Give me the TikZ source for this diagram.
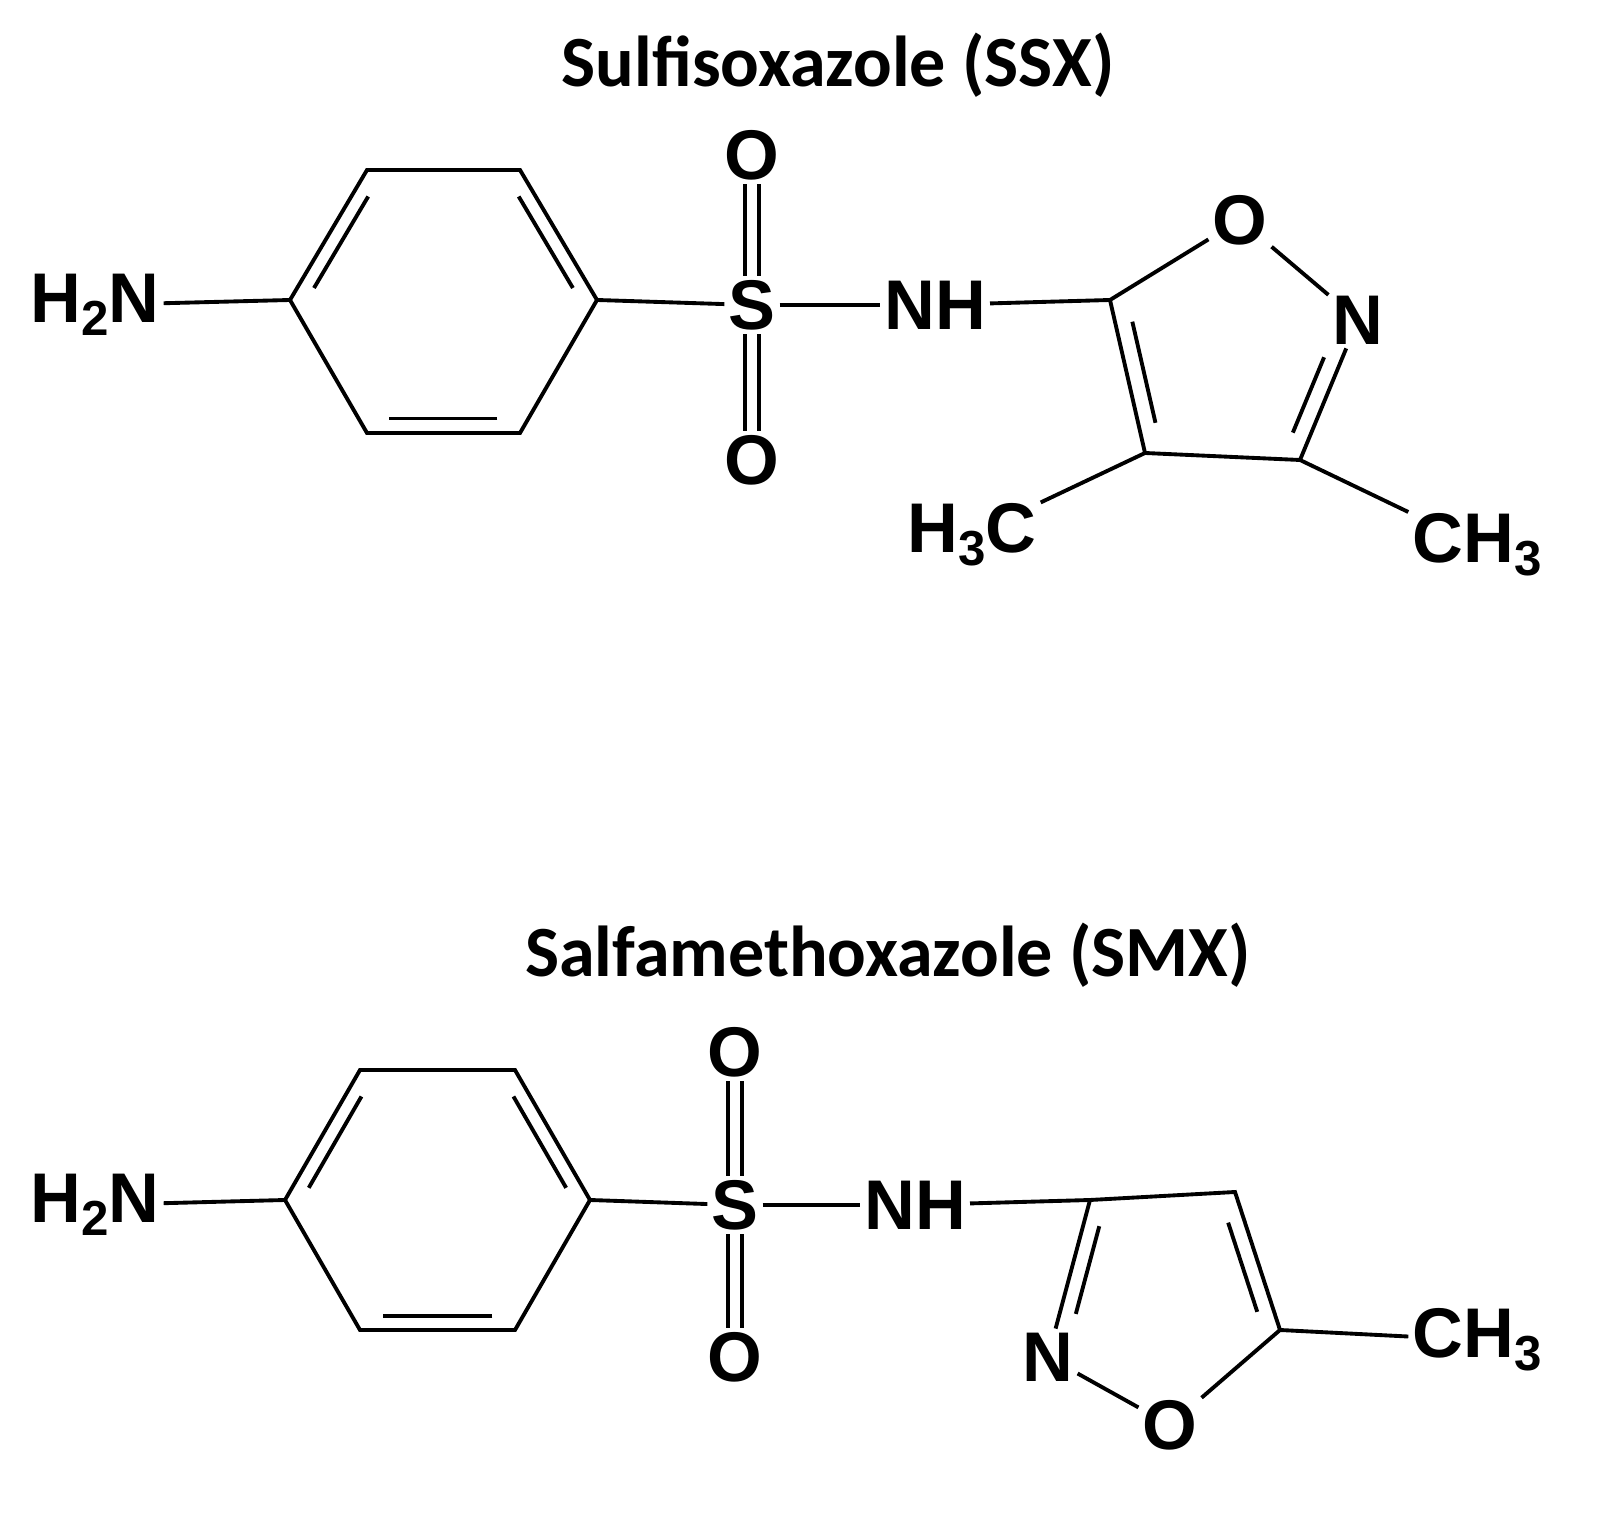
\documentclass[tikz,border=0pt]{standalone}
\usepackage{fontspec}
\setmainfont{Liberation Sans}
\newfontfamily\titlefont{Carlito}
\usetikzlibrary{calc}
\newcommand{\sbs}[1]{\raisebox{-0.35ex}{\fontsize{14}{14}\selectfont #1}}
\tikzset{x=0.01cm,y=-0.01cm,
  atom/.style={font=\fontsize{20}{20}\selectfont\bfseries, inner sep=1pt},
  ttl/.style={font=\titlefont\fontsize{20.5}{20.5}\selectfont\bfseries},
  bd/.style={line width=1.1pt}}
\begin{document}
\begin{tikzpicture}
\useasboundingbox (0,0) rectangle (1600,1513);
% ---------- top ----------
\node[ttl] (t1) at (838,65) {Sulfisoxazole (SSX)};
\node[atom] (nh2a) at (95,305) {H\sbs{2}N};
\coordinate (a1) at (290,300); \coordinate (a2) at (367,170); \coordinate (a3) at (520,170);
\coordinate (a4) at (597,300); \coordinate (a5) at (520,433); \coordinate (a6) at (367,433);
\coordinate (ac) at (443,301);
\draw[bd] (a1)--(a2)--(a3)--(a4)--(a5)--(a6)--cycle;
\draw[bd,shorten <=4pt,shorten >=4pt] ($(a1)!0.11!(ac)$)--($(a2)!0.11!(ac)$);
\draw[bd,shorten <=4pt,shorten >=4pt] ($(a3)!0.11!(ac)$)--($(a4)!0.11!(ac)$);
\draw[bd,shorten <=4pt,shorten >=4pt] ($(a5)!0.11!(ac)$)--($(a6)!0.11!(ac)$);
\draw[bd] (nh2a)--(a1);
\node[atom] (sa) at (752,305) {S};
\node[atom] (oa1) at (752,155) {O};
\node[atom] (oa2) at (752,460) {O};
\draw[bd] (a4)--(sa);
\draw[bd] ([xshift=-2.1pt]sa.north)--([xshift=-2.1pt]oa1.south);
\draw[bd] ([xshift=2.1pt]sa.north)--([xshift=2.1pt]oa1.south);
\draw[bd] ([xshift=-2.1pt]sa.south)--([xshift=-2.1pt]oa2.north);
\draw[bd] ([xshift=2.1pt]sa.south)--([xshift=2.1pt]oa2.north);
\node[atom] (nha) at (935,305) {NH};
\draw[bd] (sa)--(nha);
\coordinate (c5) at (1110,300); \node[atom] (oa) at (1240,220) {O};
\node[atom] (na) at (1358,320) {N};
\coordinate (c3) at (1300,460); \coordinate (c4) at (1145,453);
\coordinate (rc) at (1230,350);
\draw[bd] (nha)--(c5);
\draw[bd] (c5)--(oa); \draw[bd] (oa)--(na); \draw[bd] (na)--(c3);
\draw[bd] (c3)--(c4)--(c5);
\draw[bd,shorten <=4pt,shorten >=4pt] ($(c4)!0.16!(rc)$)--($(c5)!0.16!(rc)$);
\draw[bd,shorten <=10pt,shorten >=3pt] ($(na)!0.16!(rc)$)--($(c3)!0.16!(rc)$);
\node[atom] (me1) at (972,535) {H\sbs{3}C};
\node[atom] (me2) at (1477,545) {CH\sbs{3}};
\draw[bd] (c4)--(me1); \draw[bd] (c3)--(me2);
% ---------- bottom ----------
\node[ttl] (t2) at (888,955) {Salfamethoxazole (SMX)};
\node[atom] (nh2b) at (95,1205) {H\sbs{2}N};
\coordinate (b1) at (285,1200); \coordinate (b2) at (360,1070); \coordinate (b3) at (515,1070);
\coordinate (b4) at (590,1200); \coordinate (b5) at (515,1330); \coordinate (b6) at (360,1330);
\coordinate (bc) at (437,1200);
\draw[bd] (b1)--(b2)--(b3)--(b4)--(b5)--(b6)--cycle;
\draw[bd,shorten <=4pt,shorten >=4pt] ($(b1)!0.11!(bc)$)--($(b2)!0.11!(bc)$);
\draw[bd,shorten <=4pt,shorten >=4pt] ($(b3)!0.11!(bc)$)--($(b4)!0.11!(bc)$);
\draw[bd,shorten <=4pt,shorten >=4pt] ($(b5)!0.11!(bc)$)--($(b6)!0.11!(bc)$);
\draw[bd] (nh2b)--(b1);
\node[atom] (sb) at (735,1205) {S};
\node[atom] (ob1) at (735,1052) {O};
\node[atom] (ob2) at (735,1357) {O};
\draw[bd] (b4)--(sb);
\draw[bd] ([xshift=-2.1pt]sb.north)--([xshift=-2.1pt]ob1.south);
\draw[bd] ([xshift=2.1pt]sb.north)--([xshift=2.1pt]ob1.south);
\draw[bd] ([xshift=-2.1pt]sb.south)--([xshift=-2.1pt]ob2.north);
\draw[bd] ([xshift=2.1pt]sb.south)--([xshift=2.1pt]ob2.north);
\node[atom] (nhb) at (915,1205) {NH};
\draw[bd] (sb)--(nhb);
\coordinate (d3) at (1090,1200); \coordinate (d4) at (1235,1192); \coordinate (d5) at (1280,1330);
\node[atom] (ob) at (1170,1425) {O}; \node[atom] (nb) at (1048,1357) {N};
\coordinate (dc) at (1165,1300);
\draw[bd] (nhb)--(d3);
\draw[bd] (d3)--(d4)--(d5); \draw[bd] (d5)--(ob); \draw[bd] (ob)--(nb); \draw[bd] (nb)--(d3);
\draw[bd,shorten <=4pt,shorten >=4pt] ($(d4)!0.16!(dc)$)--($(d5)!0.16!(dc)$);
\draw[bd,shorten <=10pt,shorten >=3pt] ($(nb)!0.16!(dc)$)--($(d3)!0.16!(dc)$);
\node[atom] (me3) at (1477,1340) {CH\sbs{3}};
\draw[bd] (d5)--(me3);
\end{tikzpicture}
\end{document}
